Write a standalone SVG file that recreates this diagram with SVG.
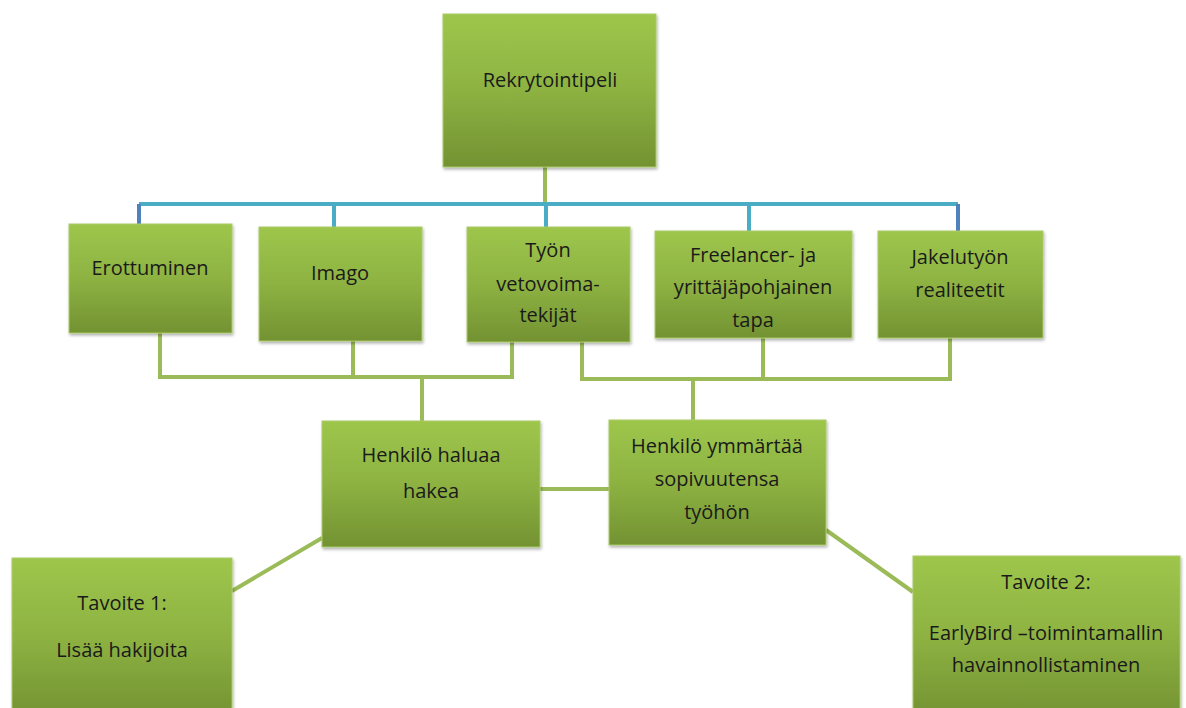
<svg xmlns="http://www.w3.org/2000/svg" width="1186" height="708" viewBox="0 0 1186 708">
<defs>
<linearGradient id="g" x1="0" y1="0" x2="0" y2="1">
<stop offset="0" stop-color="#9ec64b"/>
<stop offset="0.5" stop-color="#8db242"/>
<stop offset="1" stop-color="#739232"/>
</linearGradient>
<filter id="sh" x="-10%" y="-10%" width="120%" height="120%">
<feDropShadow dx="1" dy="2" stdDeviation="1.5" flood-color="#000" flood-opacity="0.3"/>
</filter>
</defs>
<style>
.box{fill:url(#g);stroke:#a9c96a;stroke-width:1;filter:url(#sh)}
.t{font-family:"Open Sans","Liberation Sans",sans-serif;font-size:20px;fill:#1a1a1a;text-anchor:middle}
.gl{stroke:#9bbb59;stroke-width:4;fill:none}
.bl{stroke:#4bacc6;stroke-width:4;fill:none}
.db{stroke:#4f81bd;stroke-width:4;fill:none}
</style>
<g id="connectors">
<line class="gl" x1="545" y1="167" x2="545" y2="204"/>
<line class="bl" x1="139" y1="204" x2="958" y2="204"/>
<line class="db" x1="139" y1="204" x2="139" y2="224"/>
<line class="db" x1="958" y1="204" x2="958" y2="231"/>
<line class="bl" x1="334" y1="204" x2="334" y2="227"/>
<line class="bl" x1="546" y1="204" x2="546" y2="227"/>
<line class="bl" x1="749" y1="204" x2="749" y2="231"/>
<polyline class="gl" points="160,333 160,377 512,377 512,342"/>
<line class="gl" x1="353" y1="341" x2="353" y2="377"/>
<line class="gl" x1="422" y1="377" x2="422" y2="421"/>
<polyline class="gl" points="582,342 582,379 950,379 950,338"/>
<line class="gl" x1="763" y1="338" x2="763" y2="379"/>
<line class="gl" x1="693" y1="379" x2="693" y2="420"/>
<line class="gl" x1="540" y1="489" x2="609" y2="489"/>
<line class="gl" x1="232" y1="591" x2="322" y2="538"/>
<line class="gl" x1="826" y1="530" x2="913" y2="592"/>
</g>
<g id="n-rekry"><rect class="box" x="443" y="14" width="213" height="153"/><text class="t" x="550" y="87">Rekrytointipeli</text></g>
<g id="n-erottuminen"><rect class="box" x="69" y="224" width="163" height="109"/><text class="t" x="150" y="275">Erottuminen</text></g>
<g id="n-imago"><rect class="box" x="259" y="227" width="163" height="114"/><text class="t" x="340" y="280">Imago</text></g>
<g id="n-tyon"><rect class="box" x="467" y="227" width="163" height="115"/><text class="t" x="548" y="257">Työn</text><text class="t" x="548" y="291">vetovoima-</text><text class="t" x="548" y="322">tekijät</text></g>
<g id="n-freelancer"><rect class="box" x="655" y="231" width="197" height="107"/><text class="t" x="753" y="262">Freelancer- ja</text><text class="t" x="753" y="294">yrittäjäpohjainen</text><text class="t" x="753" y="327">tapa</text></g>
<g id="n-jakelu"><rect class="box" x="878" y="231" width="165" height="107"/><text class="t" x="960" y="264">Jakelutyön</text><text class="t" x="960" y="297">realiteetit</text></g>
<g id="n-haluaa"><rect class="box" x="322" y="421" width="218" height="126"/><text class="t" x="431" y="462">Henkilö haluaa</text><text class="t" x="431" y="498">hakea</text></g>
<g id="n-ymmartaa"><rect class="box" x="609" y="420" width="217" height="125"/><text class="t" x="717" y="453">Henkilö ymmärtää</text><text class="t" x="717" y="486">sopivuutensa</text><text class="t" x="717" y="519">työhön</text></g>
<g id="n-tavoite1"><rect class="box" x="12" y="558" width="220" height="160"/><text class="t" x="122" y="610">Tavoite 1:</text><text class="t" x="122" y="657">Lisää hakijoita</text></g>
<g id="n-tavoite2"><rect class="box" x="913" y="556" width="267" height="162"/><text class="t" x="1046" y="589">Tavoite 2:</text><text class="t" x="1046" y="640">EarlyBird –toimintamallin</text><text class="t" x="1046" y="672">havainnollistaminen</text></g>
</svg>
